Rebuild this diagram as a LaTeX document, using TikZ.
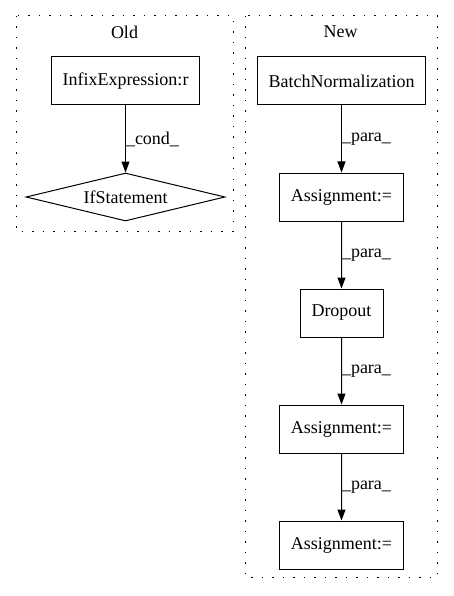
\documentclass[tikz,border=0pt]{standalone}
\usepackage{fontspec}
\setmainfont{Liberation Serif}
\usetikzlibrary{arrows.meta,shapes.geometric}

\begin{document}
\begin{tikzpicture}[x=1pt,y=-1pt,font=\fontsize{18}{21}\selectfont,level distance=116pt]
                        \tikzstyle{box}=[draw,line width=1pt,inner xsep=11.5pt,minimum height=48pt]
                        \tikzstyle{cond}=[draw,diamond,aspect=4.15,inner sep=0pt,minimum width=199pt,minimum height=48pt,line width=1pt]
                        \tikzstyle{cluster}=[draw,line width=1pt,dash pattern=on 1.5pt off 9pt]
                        \tikzstyle{edge from parent}=[draw,line width=1pt,-{Triangle[length=11pt,width=8pt]}]
                        \tikzstyle{elabel}=[right,inner sep=0pt]
                        \useasboundingbox (0,0) rectangle (453,596);
                        % Old
                        \draw[cluster] (16,16) rectangle (233,231);
                        \node (oldtitle) at (124.5,32) {Old};
                        \node[box] (infix) at (125.5,81) {InfixExpression:r}
                            child {node[cond] (ifstmt) {IfStatement}
                                edge from parent node[elabel] {\_cond\_}
                            };
                        % New
                        \draw[cluster] (245,16) rectangle (437,577);
                        \node (newtitle) at (340.5,32) {New};
                        \node[box] (batchnorm) at (341.5,81) {BatchNormalization}
                            child {node[box] (assign1) {Assignment:=}
                                child {node[box] (dropout) {Dropout}
                                    child {node[box] (assign2) {Assignment:=}
                                        child {node[box] (assign3) {Assignment:=}
                                            edge from parent node[elabel] {\_para\_}
                                        }
                                        edge from parent node[elabel] {\_para\_}
                                    }
                                    edge from parent node[elabel] {\_para\_}
                                }
                                edge from parent node[elabel] {\_para\_}
                            };
                    \end{tikzpicture}
\end{document}
